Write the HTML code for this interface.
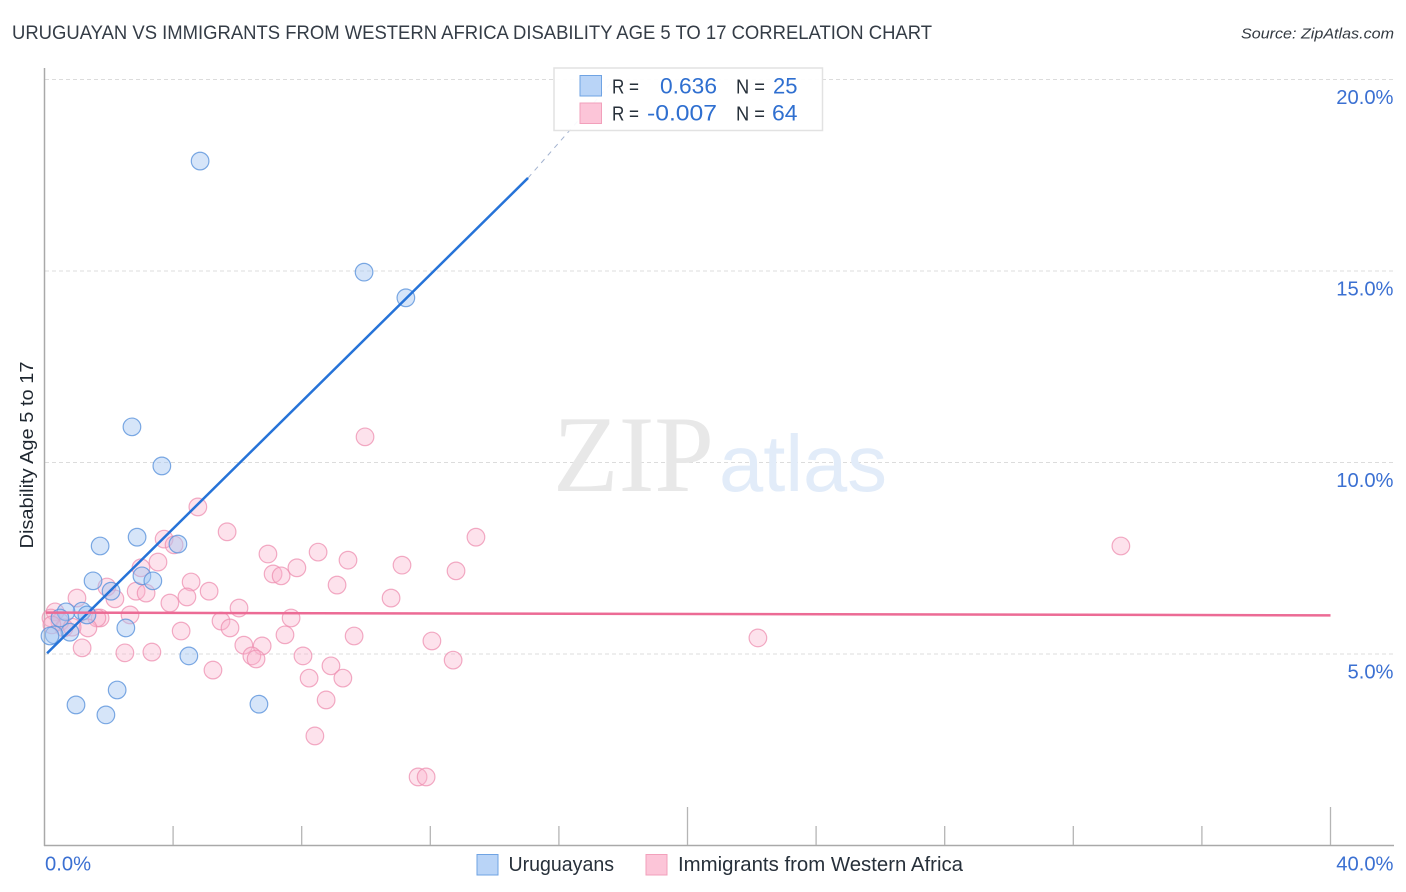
<!DOCTYPE html>
<html lang="en">
<head>
<meta charset="utf-8">
<title>Uruguayan vs Immigrants from Western Africa Disability Age 5 to 17 Correlation Chart</title>
<style>
html,body{margin:0;padding:0;background:#fff;width:1406px;height:892px;overflow:hidden}
svg{display:block}
text{font-family:"Liberation Sans",sans-serif}
</style>
</head>
<body>
<svg id="chart" xmlns="http://www.w3.org/2000/svg" width="1406" height="892" viewBox="0 0 1406 892">
  <rect width="1406" height="892" fill="#ffffff"/>
  <text x="12" y="39" font-size="19" fill="#343c46" textLength="920" lengthAdjust="spacingAndGlyphs">URUGUAYAN VS IMMIGRANTS FROM WESTERN AFRICA DISABILITY AGE 5 TO 17 CORRELATION CHART</text>
  <text x="1241" y="38.500" font-size="15" font-style="italic" fill="#333a42" textLength="153" lengthAdjust="spacingAndGlyphs">Source: ZipAtlas.com</text>
  <g id="grid"></g>
  <g>
    <text x="553" y="491" font-size="109" fill="#e8e8e8" textLength="161" lengthAdjust="spacingAndGlyphs" style="font-family:'Liberation Serif',serif">ZIP</text>
    <text x="719" y="491" font-size="80" fill="#e2ecf9" textLength="168" lengthAdjust="spacingAndGlyphs">atlas</text>
  </g>
  <g id="axes"></g>
  <g id="pink-points"></g>
  <g id="blue-points"></g>
  <g id="trends"></g>
  <g id="labels"></g>
  <text transform="translate(33,455) rotate(-90)" text-anchor="middle" font-size="18" fill="#1f2730" textLength="187" lengthAdjust="spacingAndGlyphs">Disability Age 5 to 17</text>
  <g>
    <rect x="554" y="68" width="268.500" height="62.500" fill="#ffffff" fill-opacity="0.92" stroke="#e2e2e2" stroke-width="1.500"/>
    <rect x="580" y="75.500" width="21.500" height="20.500" fill="#b9d4f7" stroke="#6fa3e3" stroke-width="1"/>
    <rect x="580" y="103" width="21.500" height="20.500" fill="#fcc5d8" stroke="#f2a0bb" stroke-width="1"/>
    <text x="612" y="93.500" font-size="20" fill="#27303a" textLength="27" lengthAdjust="spacingAndGlyphs">R =</text>
    <text x="660" y="93.500" font-size="22" fill="#2f6fd0" textLength="57" lengthAdjust="spacingAndGlyphs">0.636</text>
    <text x="736" y="93.500" font-size="20" fill="#27303a" textLength="29" lengthAdjust="spacingAndGlyphs">N =</text>
    <text x="773" y="93.500" font-size="22" fill="#2f6fd0" textLength="24.500" lengthAdjust="spacingAndGlyphs">25</text>
    <text x="612" y="120.500" font-size="20" fill="#27303a" textLength="27" lengthAdjust="spacingAndGlyphs">R =</text>
    <text x="647" y="120.500" font-size="22" fill="#2f6fd0" textLength="70" lengthAdjust="spacingAndGlyphs">-0.007</text>
    <text x="736" y="120.500" font-size="20" fill="#27303a" textLength="29" lengthAdjust="spacingAndGlyphs">N =</text>
    <text x="772" y="120.500" font-size="22" fill="#2f6fd0" textLength="25.500" lengthAdjust="spacingAndGlyphs">64</text>
  </g>
  <g>
    <rect x="477" y="854.500" width="21" height="20.500" fill="#b9d4f7" stroke="#6fa3e3" stroke-width="1"/>
    <text x="508.500" y="871" font-size="20" fill="#27303a" textLength="105.500" lengthAdjust="spacingAndGlyphs">Uruguayans</text>
    <rect x="646" y="854.500" width="21" height="20.500" fill="#fcc5d8" stroke="#f2a0bb" stroke-width="1"/>
    <text x="678" y="871" font-size="20" fill="#27303a" textLength="285" lengthAdjust="spacingAndGlyphs">Immigrants from Western Africa</text>
  </g>
</svg>
<script>
var yTicks = [5, 10, 15, 20];
var yTickLabels = ["5.0%", "10.0%", "15.0%", "20.0%"];
var xTicks = [0, 4, 8, 12, 16, 20, 24, 28, 32, 36, 40];
var xMajorTicks = [20, 40];
var xEdgeValues = [0, 40];
var xEdgeLabels = ["0.0%", "40.0%"];

var uruguayansX = [4.84, 9.94, 11.24, 2.72, 3.65, 2.88, 4.15, 1.73, 1.51, 3.03, 3.37, 2.07, 1.17, 0.67, 1.32, 2.53, 0.79, 0.30, 4.49, 2.26, 0.98, 1.91, 6.67, 0.17, 0.48];
var uruguayansY = [17.87, 14.97, 14.30, 10.93, 9.91, 8.05, 7.87, 7.82, 6.91, 7.04, 6.91, 6.64, 6.12, 6.10, 6.02, 5.68, 5.57, 5.50, 4.95, 4.06, 3.67, 3.41, 3.69, 5.47, 5.94];

var immigrantsX = [9.97, 4.77, 5.68, 3.72, 13.42, 33.48, 4.03, 6.95, 8.51, 9.44, 3.53, 7.85, 11.12, 12.80, 3.00, 7.11, 7.36, 4.56, 9.10, 1.94, 2.85, 3.16, 5.12, 4.43, 1.01, 2.19, 10.78, 3.90, 6.05, 0.33, 2.66, 7.67, 1.73, 1.63, 5.49, 0.48, 0.20, 0.61, 1.35, 4.25, 5.77, 7.48, 9.63, 12.05, 22.19, 1.17, 2.50, 3.34, 6.20, 6.77, 6.45, 6.58, 8.04, 12.71, 5.24, 8.91, 8.23, 9.28, 8.76, 8.41, 11.62, 11.87, 0.23, 0.86];
var immigrantsY = [10.67, 8.84, 8.19, 8.00, 8.05, 7.82, 7.85, 7.61, 7.66, 7.45, 7.40, 7.25, 7.32, 7.17, 7.25, 7.09, 7.04, 6.88, 6.80, 6.75, 6.64, 6.59, 6.64, 6.49, 6.46, 6.44, 6.46, 6.33, 6.20, 6.10, 6.02, 5.94, 5.94, 5.94, 5.86, 5.84, 5.94, 5.68, 5.68, 5.60, 5.68, 5.50, 5.47, 5.34, 5.42, 5.16, 5.03, 5.05, 5.23, 5.21, 4.95, 4.87, 4.95, 4.84, 4.58, 4.69, 4.37, 4.37, 3.80, 2.86, 1.79, 1.79, 5.76, 5.70];

var uruguayansTrendX = [0.08, 15.04];
var uruguayansTrendY = [5.02, 17.43];
var uruguayansDashX = [15.04, 17.70];
var uruguayansDashY = [17.43, 19.98];
var immigrantsTrendX = [0.04, 40];
var immigrantsTrendY = [6.08, 6.01];

var NS = "http://www.w3.org/2000/svg";
function xScale(v) { return 44.5 + v * 32.15; }
function yScale(v) { return 654 - (v - 5) * 38.3; }
function mk(tag, parent, attrs) {
  var el = document.createElementNS(NS, tag);
  for (var k in attrs) el.setAttribute(k, attrs[k]);
  parent.appendChild(el);
  return el;
}
var grid = document.getElementById("grid");
var axes = document.getElementById("axes");
var labels = document.getElementById("labels");
var pinkG = document.getElementById("pink-points");
var blueG = document.getElementById("blue-points");
var trends = document.getElementById("trends");

yTicks.forEach(function (t, i) {
  var ln = mk("line", grid, {x1: 45, x2: 1393, y1: yScale(t), y2: yScale(t), stroke: "#dcdcdc", "stroke-width": 1, "stroke-dasharray": "4 3"});
  
  
  var tx = mk("text", labels, {x: 1393.5, y: yScale(t) + 24.5, "text-anchor": "end", "font-size": 20.2, fill: "#3b70d2"});
  
  
  tx.textContent = yTickLabels[i];
});

var yAxis = mk("line", axes, {x1: 44.5, x2: 44.5, y1: 68, y2: 846, stroke: "#a9a9a9", "stroke-width": 1.5});


var xAxis = mk("line", axes, {x1: 44, x2: 1394, y1: 845.5, y2: 845.5, stroke: "#a9a9a9", "stroke-width": 1.5});



xTicks.forEach(function (t) {
  if (t === 0) return;
  var top = xMajorTicks.indexOf(t) >= 0 ? 807 : 826;
  var ln = mk("line", axes, {x1: xScale(t), x2: xScale(t), y1: top, y2: 845, stroke: "#b5b5b5", "stroke-width": 1.3});
  
  
});

xEdgeValues.forEach(function (v, i) {
  var tx = mk("text", labels, {x: i === 0 ? xScale(v) + 0.5 : 1393.5, y: 870.5, "text-anchor": i === 0 ? "start" : "end", "font-size": 20.2, fill: "#3b70d2"});
  
  
  tx.textContent = xEdgeLabels[i];
});

immigrantsX.forEach(function (x, i) {
  var c = mk("circle", pinkG, {cx: xScale(x), cy: yScale(immigrantsY[i]), r: 8.8, fill: "#f9b4cc", "fill-opacity": 0.38, stroke: "#ee8fb0", "stroke-opacity": 0.75, "stroke-width": 1.2});
  
  
});
uruguayansX.forEach(function (x, i) {
  var c = mk("circle", blueG, {cx: xScale(x), cy: yScale(uruguayansY[i]), r: 8.8, fill: "#a5c6f2", "fill-opacity": 0.45, stroke: "#5b93dc", "stroke-opacity": 0.8, "stroke-width": 1.2});
  
  
});

var dash = mk("line", trends, {x1: xScale(uruguayansDashX[0]), y1: yScale(uruguayansDashY[0]), x2: xScale(uruguayansDashX[1]), y2: yScale(uruguayansDashY[1]), stroke: "#a3b3d0", "stroke-width": 1, "stroke-dasharray": "5 5"});


var blueLine = mk("line", trends, {x1: xScale(uruguayansTrendX[0]), y1: yScale(uruguayansTrendY[0]), x2: xScale(uruguayansTrendX[1]), y2: yScale(uruguayansTrendY[1]), stroke: "#2673d8", "stroke-width": 2.5});


var pinkLine = mk("line", trends, {x1: xScale(immigrantsTrendX[0]), y1: yScale(immigrantsTrendY[0]), x2: xScale(immigrantsTrendX[1]), y2: yScale(immigrantsTrendY[1]), stroke: "#ec6b95", "stroke-width": 2.5});


</script>
</body>
</html>
